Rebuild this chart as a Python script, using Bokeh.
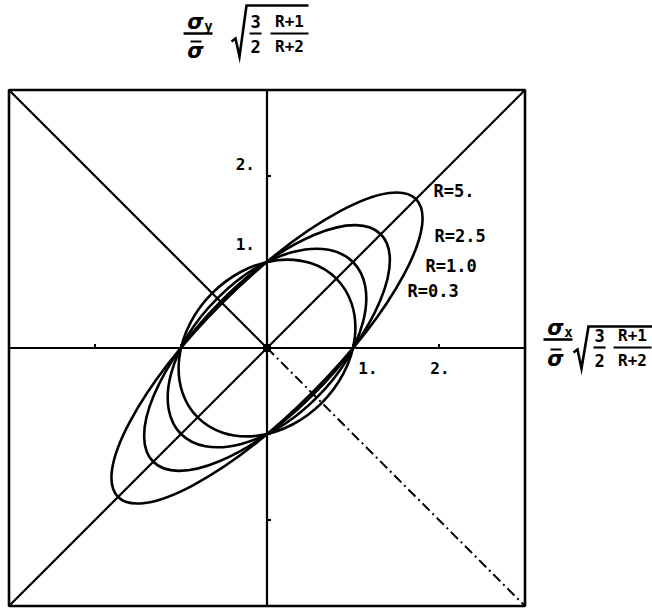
import numpy as np
from bokeh.plotting import figure
from bokeh.models import Range1d
from bokeh.core.properties import value
from bokeh.embed import file_html
from bokeh.resources import INLINE

# Lankford anisotropy coefficients of the plotted yield loci
r_values = [0.3, 1.0, 2.5, 5.0]
r_labels = ["R=0.3", "R=1.0", "R=2.5", "R=5."]

# normalised stress axes: tick marks and labelled ticks
tick_values = [-2.0, -1.0, 1.0, 2.0]
label_values = [1.0, 2.0]
label_texts = ["1.", "2."]
LIMIT = 3.0

# canvas layout: pixels per unit and pixel position of the origin
W, H = 652, 608
S = 86.0
OX, OY = 266.5, 347.5


def X(px):
    return (px - OX) / S


def Y(py):
    return (OY - py) / S


p = figure(width=W, height=H, output_backend="svg", toolbar_location=None,
           x_range=Range1d(X(0), X(W)), y_range=Range1d(Y(H), Y(0)),
           x_axis_type=None, y_axis_type=None, min_border=0,
           outline_line_color=None, background_fill_color="white")

INK = "black"
MONO = value("DejaVu Sans Mono")
SANS = value("DejaVu Sans")

# frame, axes and diagonals
p.quad(left=[-LIMIT], right=[LIMIT], bottom=[-LIMIT], top=[LIMIT],
       fill_color=None, line_color=INK, line_width=2.6)
p.segment(x0=[-LIMIT, 0], y0=[0, -LIMIT], x1=[LIMIT, 0], y1=[0, LIMIT],
          line_color=INK, line_width=2.2)
p.segment(x0=[-LIMIT], y0=[-LIMIT], x1=[LIMIT], y1=[LIMIT],
          line_color=INK, line_width=2.2)
p.segment(x0=[-LIMIT], y0=[LIMIT], x1=[0], y1=[0],
          line_color=INK, line_width=2.2)
p.segment(x0=[0], y0=[0], x1=[LIMIT], y1=[-LIMIT],
          line_color=INK, line_width=2.0, line_dash="10 4 2 4")
p.scatter(x=[0], y=[0], size=8, color=INK)

# small tick marks on both axes
tl = 4.0 / S
p.segment(x0=tick_values, y0=[0] * len(tick_values), x1=tick_values,
          y1=[tl] * len(tick_values), line_color=INK, line_width=2)
p.segment(x0=[0] * len(tick_values), y0=tick_values,
          x1=[tl] * len(tick_values), y1=tick_values, line_color=INK, line_width=2)

# tick labels
x_label_dx = [15, 1]
p.text(x=[v + dx / S for v, dx in zip(label_values, x_label_dx)],
       y=[-20 / S] * len(label_values), text=label_texts,
       text_align="center", text_baseline="middle", text_font=MONO,
       text_font_size="16px", text_font_style="bold", text_color=INK)
y_label_dy = [18, 12]
p.text(x=[-12 / S] * len(label_values),
       y=[v + dy / S for v, dy in zip(label_values, y_label_dy)],
       text=label_texts, text_align="right", text_baseline="middle",
       text_font=MONO, text_font_size="16px", text_font_style="bold",
       text_color=INK)

# Hill (1948) normal anisotropy in normalised stresses:
#   x^2 + y^2 - 2R/(1+R) x y = 1
# principal semi-axes lie on the diagonals
for r in r_values:
    a = np.sqrt(1.0 + r)
    b = np.sqrt((1.0 + r) / (1.0 + 2.0 * r))
    p.ellipse(x=[0], y=[0], width=[2 * a], height=[2 * b], angle=np.pi / 4,
              fill_color=None, line_color=INK, line_width=2.6)

# curve labels
lab_px = {"R=5.": (433, 190), "R=2.5": (434, 235),
          "R=1.0": (425, 265), "R=0.3": (407, 290)}
p.text(x=[X(lab_px[t][0]) for t in r_labels],
       y=[Y(lab_px[t][1]) for t in r_labels], text=r_labels,
       text_align="left", text_baseline="middle", text_font=MONO,
       text_font_size="17px", text_font_style="bold", text_color=INK)


def put(txt, px, py, size="16px", font=MONO, style="bold", align="center"):
    p.text(x=[X(px)], y=[Y(py)], text=[txt], text_align=align,
           text_baseline="middle", text_font=font, text_font_size=size,
           text_font_style=style, text_color=INK)


def hline(px0, px1, py, w=2.2):
    p.line(x=[X(px0), X(px1)], y=[Y(py), Y(py)], line_color=INK, line_width=w)


def radical(pts, w=2.6):
    p.line(x=[X(a) for a, _ in pts], y=[Y(b) for _, b in pts],
           line_color=INK, line_width=w, line_join="miter")


def axis_title(sub, fx, fy_top, fy_bar, fy_bot, rad_pts, f3x, rx, bar_y, top_y, bot_y):
    # sigma_sub / sigma-bar
    put("\u03c3", fx, fy_top, size="21px", font=SANS, style="bold italic")
    put(sub, fx + 13, fy_top + 4, size="14px", font=MONO)
    hline(fx - 12, fx + 17, fy_bar, 2.6)
    put("\u03c3", fx, fy_bot, size="21px", font=SANS, style="bold italic")
    hline(fx - 5, fx + 6, fy_bot - 9, 2.0)
    # sqrt( 3/2 * (R+1)/(R+2) )
    radical(rad_pts)
    put("3", f3x, top_y, size="17px")
    hline(f3x - 6, f3x + 6, bar_y)
    put("2", f3x, bot_y, size="17px")
    put("R+1", rx, top_y, size="16px")
    hline(rx - 19, rx + 19, bar_y)
    put("R+2", rx, bot_y, size="16px")


# vertical axis title (above the frame)
axis_title("y", 195, 21, 33, 50,
           [(231, 41), (235, 38), (239, 56), (246, 5), (308, 5)],
           255, 289, 33, 21, 46)

# horizontal axis title (right of the frame)
axis_title("x", 555, 327, 339, 358,
           [(573, 352), (577, 349), (581, 368), (588, 326), (652, 326)],
           599, 632, 347, 335, 360)

open("out.html", "w").write(file_html(p, INLINE))
